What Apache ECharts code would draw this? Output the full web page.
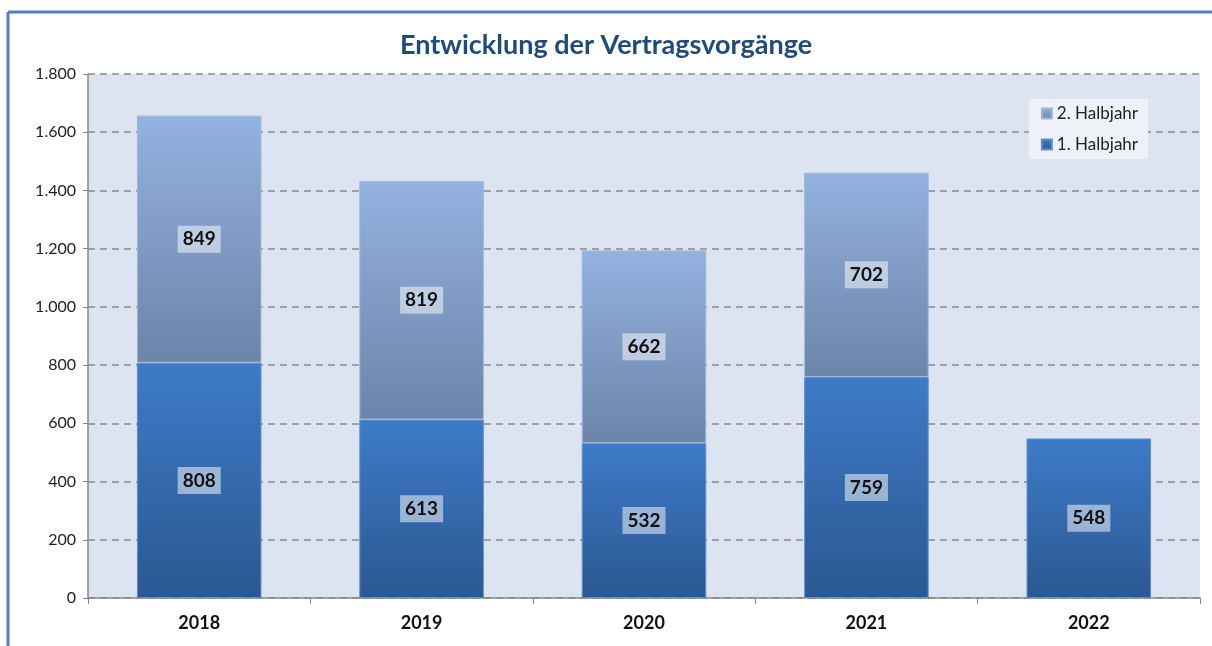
<!DOCTYPE html>
<html>
<head>
<meta charset="utf-8">
<script src="https://cdn.jsdelivr.net/npm/echarts@6/dist/echarts.min.js"></script>
<style>
  html, body { margin: 0; padding: 0; background: #fff; }
  #chart { width: 1212px; height: 646px; }
</style>
</head>
<body>
<div id="chart"></div>
<script>
// Daten
var jahre = ['2018', '2019', '2020', '2021', '2022'];
var halbjahr1 = [808, 613, 532, 759, 548];
var halbjahr2 = [849, 819, 662, 702, null];
var yTicks = { min: 0, max: 1800, interval: 200 };

var font = 'Lato, "Open Sans", sans-serif';

function tausender(v) {
  return String(v).replace(/\B(?=(\d{3})+(?!\d))/g, '.');
}

var chart = echarts.init(document.getElementById('chart'));

var labelStyle = {
  show: true,
  position: 'inside',
  fontFamily: font,
  fontWeight: 'bold',
  fontSize: 19,
  color: '#111',
  backgroundColor: 'rgba(255,255,255,0.5)',
  padding: [5, 5, 3, 5]
};

var options = {
  backgroundColor: '#fff',
  title: {
    text: 'Entwicklung der Vertragsvorgänge',
    left: 'center',
    top: 27,
    textStyle: { fontFamily: font, fontWeight: 'bold', fontSize: 27, color: '#1f4a7a' }
  },
  legend: {
    right: 64,
    top: 99,
    orient: 'vertical',
    data: ['2. Halbjahr', '1. Halbjahr'],
    icon: 'rect',
    itemWidth: 10,
    itemHeight: 10,
    itemGap: 14,
    padding: [6, 10, 6, 12],
    backgroundColor: '#eef2f8',
    textStyle: { fontFamily: font, fontSize: 17, color: '#222' }
  },
  grid: {
    left: 88,
    right: 12,
    top: 74,
    bottom: 48,
    show: true,
    backgroundColor: '#dbe4f0',
    borderWidth: 0
  },
  xAxis: {
    type: 'category',
    data: jahre,
    axisLine: { lineStyle: { color: '#888', width: 1.5 } },
    axisTick: { show: true, length: 6, lineStyle: { color: '#888' } },
    axisLabel: { fontFamily: font, fontWeight: 'bold', fontSize: 18, color: '#111', margin: 16 }
  },
  yAxis: {
    type: 'value',
    min: yTicks.min,
    max: yTicks.max,
    interval: yTicks.interval,
    axisLine: { show: true, lineStyle: { color: '#888', width: 1.5 } },
    axisTick: { show: true, length: 5, lineStyle: { color: '#888' } },
    axisLabel: {
      fontFamily: font, fontSize: 16, color: '#222', margin: 12,
      formatter: tausender
    },
    splitLine: { lineStyle: { color: '#8a8a8a', type: [7, 5], width: 1.5 } }
  },
  series: [
    {
      name: '1. Halbjahr',
      type: 'bar',
      stack: 'gesamt',
      barWidth: '56%',
      data: halbjahr1,
      itemStyle: {
        color: new echarts.graphic.LinearGradient(0, 0, 0, 1, [
          { offset: 0, color: '#3e7bc8' },
          { offset: 1, color: '#2b5891' }
        ]),
        borderColor: '#5f8fc8',
        borderWidth: 1
      },
      label: labelStyle
    },
    {
      name: '2. Halbjahr',
      type: 'bar',
      stack: 'gesamt',
      data: halbjahr2,
      itemStyle: {
        color: new echarts.graphic.LinearGradient(0, 0, 0, 1, [
          { offset: 0, color: '#93b2e0' },
          { offset: 1, color: '#6c84a8' }
        ]),
        borderColor: '#9fb7da',
        borderWidth: 1
      },
      label: labelStyle
    }
  ],
  graphic: [
    { type: 'line', shape: { x1: 8, y1: 12, x2: 1212, y2: 12 }, style: { stroke: '#4f7fbf', lineWidth: 3 } },
    { type: 'line', shape: { x1: 8, y1: 12, x2: 8, y2: 646 }, style: { stroke: '#4f7fbf', lineWidth: 3 } }
  ]
};

chart.setOption(options);
</script>
</body>
</html>
